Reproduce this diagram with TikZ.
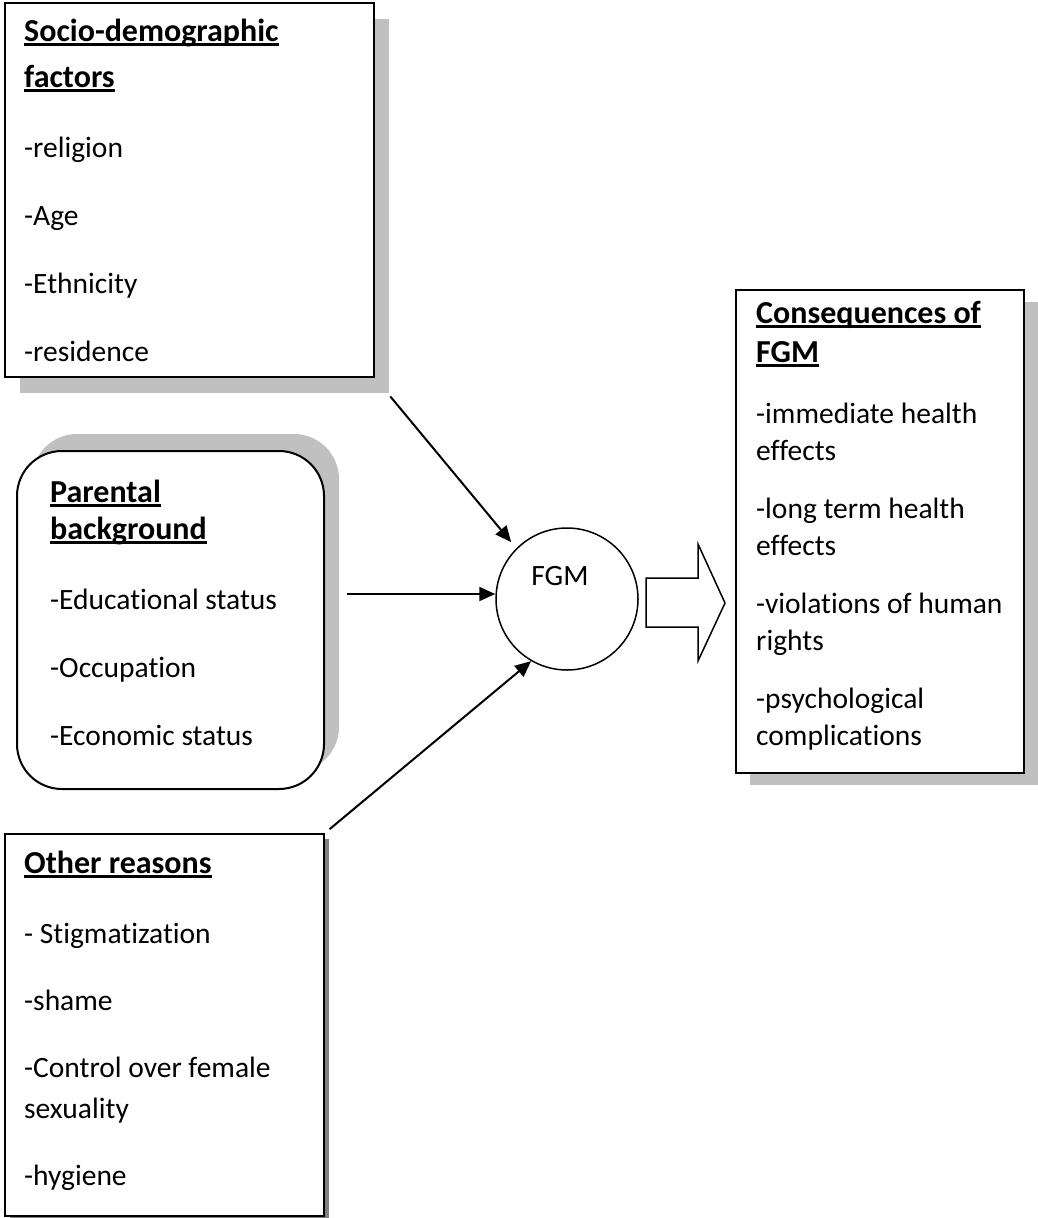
\documentclass[tikz,border=0pt]{standalone}
\usepackage{fontspec}
\setmainfont{Carlito}[Ligatures=NoCommon]
\usetikzlibrary{arrows.meta,shadows}
\definecolor{shadegray}{HTML}{C0C0C0}
\definecolor{darkshade}{HTML}{808080}
\newcommand{\hd}[1]{\setbox0\hbox{\fontsize{32pt}{37pt}\selectfont\bfseries #1}\rlap{\copy0}\rule[-5pt]{\wd0}{3pt}}

\begin{document}
\begin{tikzpicture}[x=1pt, y=-1pt,
  box/.style={draw, line width=2pt, fill=white, anchor=north west, inner sep=0},
  txt/.style={anchor=base west, align=left, inner sep=0, font=\fontsize{29.5pt}{37pt}\selectfont},
  arr/.style={line width=2pt, -{Triangle[length=16pt,width=14pt]}}]
\useasboundingbox (0,0) rectangle (1038,1218);

\node[box, minimum width=369pt, minimum height=374pt, drop shadow={shadow xshift=15pt, shadow yshift=-16pt, fill=shadegray, opacity=1}] (socio) at (4,2) {};
\node[box, rounded corners=45pt, minimum width=307pt, minimum height=338pt, drop shadow={shadow xshift=15pt, shadow yshift=17pt, fill=shadegray, opacity=1}] (parental) at (16,450) {};
\node[box, minimum width=319pt, minimum height=382pt, drop shadow={shadow xshift=5pt, shadow yshift=-5pt, fill=darkshade, opacity=1}] (other) at (4,833) {};
\node[box, minimum width=288pt, minimum height=483pt, drop shadow={shadow xshift=14pt, shadow yshift=-12pt, fill=shadegray, opacity=1}] (cons) at (735,289) {};
\node[draw, circle, line width=1.5pt, fill=white, minimum size=142pt, inner sep=0] (fgm) at (567,599) {};

% text blocks, placed by the baseline of their last line
\node[txt] (sociotxt) at (24,361) {\hd{Socio-demographic}\\[9pt] \hd{factors}\\[33pt] -religion\\[31pt] -Age\\[31pt] -Ethnicity\\[31pt] -residence};
\node[txt] (parentaltxt) at (50,745) {\hd{Parental}\\ \hd{background}\\[33pt] -Educational status\\[31pt] -Occupation\\[31pt] -Economic status};
\node[txt] (othertxt) at (24,1185) {\hd{Other reasons}\\[33pt] - Stigmatization\\[30pt] -shame\\[30pt] -Control over female\\[4pt] sexuality\\[30pt] -hygiene};
\node[txt] (constxt) at (756,745) {\hd{Consequences of}\\[2pt] \hd{FGM}\\[24pt] -immediate health\\ effects\\[21pt] -long term health\\ effects\\[21pt] -violations of human\\ rights\\[21pt] -psychological\\ complications};
\node[font=\fontsize{29.5pt}{37pt}\selectfont, inner sep=0] (fgmtxt) at (560,576) {FGM};

\draw[line width=1.5pt] (646,578) -- (698,578) -- (698,544) -- (725,603) -- (698,661) -- (698,627) -- (646,627) -- cycle;

\coordinate (fgmin) at ([yshift=5pt]fgm.west);
\draw[arr, shorten <=24pt, shorten >=8pt] (socio.south east) -- (fgm.north west);
\draw[arr, shorten <=22pt] (parental.east |- fgmin) -- (fgmin);
\draw[arr, shorten <=6pt] (other.north east) -- (fgm.240);

\end{tikzpicture}
\end{document}
